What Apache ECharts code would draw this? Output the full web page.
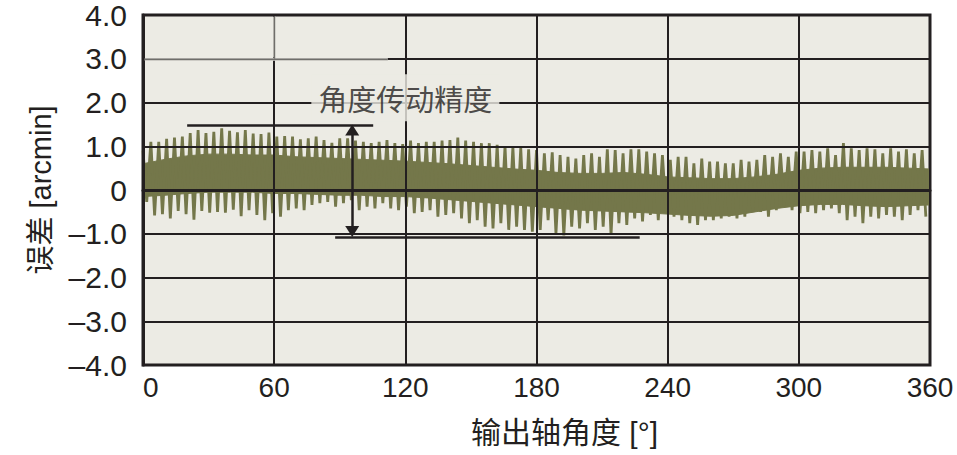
<!DOCTYPE html>
<html>
<head>
<meta charset="utf-8">
<script src="https://cdn.jsdelivr.net/npm/echarts@6/dist/echarts.min.js"></script>
<style>
html,body{margin:0;padding:0;background:#ffffff;}
#chart{width:957px;height:455px;}
</style>
</head>
<body>
<div id="chart"></div>
<script>
// ---- data ----
const xTickValues = [0, 60, 120, 180, 240, 300, 360];
const xTickLabels = ['0', '60', '120', '180', '240', '300', '360'];
const yTickValues = [-4, -3, -2, -1, 0, 1, 2, 3, 4];
const yTickLabels = ['\u20134.0', '\u20133.0', '\u20132.0', '\u20131.0', '0', '1.0', '2.0', '3.0', '4.0'];

const xName = '输出轴角度 [°]';
const yName = '误差 [arcmin]';
const titleText = '角度传动精度';

// one oscillation per 3.6° of output angle (100 per revolution)
const cycleDeg = 3.6;
const lowPhaseDeg = 1.7;

// top of each upward spike, one per cycle [arcmin]
const spikeHigh = [
  0.90, 1.10, 1.10, 1.17, 1.20, 1.22, 1.30, 1.37, 1.30, 1.33,
  1.41, 1.35, 1.32, 1.37, 1.29, 1.28, 1.31, 1.22, 1.23, 1.22,
  1.16, 1.18, 1.22, 1.14, 1.08, 1.18, 1.18, 1.13, 1.10, 1.07,
  1.10, 1.14, 1.07, 1.05, 1.13, 1.07, 1.10, 1.10, 1.13, 1.14,
  1.20, 1.13, 1.10, 1.07, 1.07, 1.03, 1.00, 0.98, 0.96, 0.93,
  0.91, 0.84, 0.86, 0.80, 0.76, 0.72, 0.80, 0.84, 0.76, 0.93,
  0.91, 0.84, 0.93, 0.93, 0.88, 0.84, 0.80, 0.69, 0.76, 0.76,
  0.61, 0.72, 0.65, 0.65, 0.61, 0.61, 0.69, 0.65, 0.69, 0.80,
  0.76, 0.84, 0.76, 0.88, 0.88, 0.91, 0.88, 0.95, 0.80, 1.07,
  0.95, 0.91, 0.95, 0.93, 0.84, 0.95, 0.88, 0.93, 0.84, 0.91
];

// bottom of each downward spike, one per cycle [arcmin]
const spikeLow = [
  -0.27, -0.58, -0.55, -0.65, -0.48, -0.55, -0.68, -0.48, -0.52, -0.50,
  -0.52, -0.45, -0.60, -0.46, -0.57, -0.69, -0.53, -0.61, -0.46, -0.42,
  -0.46, -0.34, -0.30, -0.27, -0.38, -0.30, -0.23, -0.46, -0.38, -0.42,
  -0.30, -0.42, -0.46, -0.38, -0.53, -0.50, -0.46, -0.61, -0.57, -0.53,
  -0.65, -0.76, -0.69, -0.84, -0.88, -0.76, -0.91, -0.84, -0.91, -0.95,
  -0.91, -0.69, -0.99, -1.04, -0.84, -0.88, -0.76, -0.91, -0.84, -1.02,
  -0.76, -0.80, -0.65, -0.72, -0.57, -0.69, -0.53, -0.61, -0.69, -0.76,
  -0.80, -0.69, -0.69, -0.65, -0.61, -0.65, -0.61, -0.46, -0.50, -0.61,
  -0.46, -0.38, -0.46, -0.53, -0.50, -0.53, -0.46, -0.42, -0.53, -0.69,
  -0.61, -0.76, -0.61, -0.65, -0.57, -0.61, -0.69, -0.57, -0.46, -0.61
];

// solid core of the trace, read every 10°
const bandAngles = [0,10,20,30,40,50,60,70,80,90,100,110,120,130,140,150,160,170,180,
  190,200,210,220,230,240,250,260,270,280,290,300,310,320,330,340,350,360];
const bandTop = [0.60,0.70,0.78,0.82,0.82,0.80,0.80,0.76,0.74,0.72,0.70,0.68,0.66,0.63,0.60,0.56,0.52,0.48,0.45,
  0.40,0.38,0.38,0.40,0.36,0.30,0.28,0.26,0.26,0.30,0.36,0.45,0.50,0.52,0.52,0.52,0.50,0.48];
const bandBottom = [-0.15,-0.12,-0.08,-0.05,-0.05,-0.05,-0.08,-0.08,-0.10,-0.12,-0.12,-0.15,-0.15,-0.18,-0.22,-0.26,-0.30,-0.34,-0.38,
  -0.42,-0.46,-0.48,-0.50,-0.52,-0.55,-0.58,-0.60,-0.58,-0.50,-0.42,-0.36,-0.33,-0.33,-0.36,-0.38,-0.36,-0.34];

// annotation: peak-to-peak bracket
const bracketTop = { from: 20.2, to: 105.3, value: 1.49 };
const bracketBottom = { from: 87.9, to: 227.2, value: -1.07 };
const arrowAngle = 95.7;
const titlePos = [120, 2.11];

// ---- build series data ----
const spikeData = [];
for (let i = 0; i < spikeHigh.length; i++) {
  spikeData.push([i * cycleDeg, spikeHigh[i]]);
  spikeData.push([i * cycleDeg + lowPhaseDeg, spikeLow[i]]);
}

const ink = '#231f20';
const olive = '#74774a';
const plotBg = '#ecebe4';
const faintGrid = '#6f6e6a';
const latin = "'Liberation Sans', Arial, sans-serif";
const mixed = "'Liberation Sans', 'Noto Sans CJK SC', sans-serif";

const chart = echarts.init(document.getElementById('chart'), null, { renderer: 'svg' });

chart.setOption({
  backgroundColor: '#ffffff',
  animation: false,
  grid: {
    left: 143, right: 27, top: 15, bottom: 90,
    show: true, backgroundColor: plotBg, borderColor: ink, borderWidth: 3
  },
  xAxis: {
    type: 'value', min: 0, max: 360, interval: 60, z: 3,
    axisLine: { show: true, lineStyle: { color: ink, width: 3 } },
    axisTick: { show: false },
    splitLine: { show: true, lineStyle: { color: ink, width: 2 } },
    axisLabel: {
      color: ink, fontFamily: latin, fontSize: 28, margin: 8,
      alignMinLabel: 'left',
      formatter: v => { const k = xTickValues.indexOf(Math.round(v)); return k >= 0 ? xTickLabels[k] : ''; }
    },
    name: xName, nameLocation: 'middle', nameGap: 52,
    nameTextStyle: { color: ink, fontFamily: mixed, fontSize: 30, padding: [0, 0, 0, 56] }
  },
  yAxis: {
    type: 'value', min: -4, max: 4, interval: 1, z: 3,
    axisLine: { show: true, lineStyle: { color: ink, width: 3 } },
    axisTick: { show: false },
    splitLine: { show: true, lineStyle: { color: ink, width: 2 } },
    axisLabel: {
      color: ink, fontFamily: latin, fontSize: 30, margin: 16,
      formatter: v => { const k = yTickValues.indexOf(Math.round(v)); return k >= 0 ? yTickLabels[k] : ''; }
    },
    name: yName, nameLocation: 'middle', nameGap: 88, nameRotate: 90,
    nameTextStyle: { color: ink, fontFamily: mixed, fontSize: 29 }
  },
  series: [
    {
      name: 'core', type: 'custom', coordinateSystem: 'cartesian2d', z: 2,
      silent: true, data: [[0, 0]],
      renderItem: function (params, api) {
        const pts = [];
        for (let k = 0; k < bandAngles.length; k++) pts.push(api.coord([bandAngles[k], bandTop[k]]));
        for (let k = bandAngles.length - 1; k >= 0; k--) pts.push(api.coord([bandAngles[k], bandBottom[k]]));
        return { type: 'polygon', shape: { points: pts }, style: { fill: olive, stroke: olive, lineWidth: 1 } };
      }
    },
    {
      name: 'error', type: 'line', z: 2, data: spikeData, symbol: 'none', silent: true,
      lineStyle: { color: olive, width: 2.8, join: 'miter' }, clip: true
    },
    {
      name: 'gridMask', type: 'line', z: 4, data: [], silent: true,
      markLine: {
        silent: true, symbol: 'none', animation: false, label: { show: false },
        lineStyle: { color: plotBg, width: 2.6, type: 'solid' },
        data: [
          [{ coord: [0.8, 3] }, { coord: [112, 3] }],
          [{ coord: [60, 3.03] }, { coord: [60, 3.96] }]
        ]
      }
    },
    {
      name: 'faint', type: 'line', z: 5, data: [], silent: true,
      markLine: {
        silent: true, symbol: 'none', animation: false, label: { show: false },
        lineStyle: { color: faintGrid, width: 1.4, type: 'solid' },
        data: [
          [{ coord: [0.8, 3] }, { coord: [112, 3] }],
          [{ coord: [60, 3] }, { coord: [60, 3.96] }]
        ]
      }
    },
    {
      name: 'annotation', type: 'scatter', z: 10, silent: true,
      data: [titlePos], symbolSize: 0,
      label: {
        show: true, position: 'inside', formatter: titleText,
        color: ink, fontFamily: "'Noto Sans CJK SC', sans-serif", fontSize: 29,
        backgroundColor: plotBg, padding: [9, 7, 9, 7]
      },
      markLine: {
        silent: true, symbol: 'none', animation: false,
        label: { show: false },
        lineStyle: { color: ink, width: 2.5, type: 'solid' },
        data: [
          [{ coord: [bracketTop.from, bracketTop.value] }, { coord: [bracketTop.to, bracketTop.value] }],
          [{ coord: [bracketBottom.from, bracketBottom.value] }, { coord: [bracketBottom.to, bracketBottom.value] }],
          [{ coord: [arrowAngle, bracketTop.value - 0.12], symbol: 'triangle', symbolSize: [14, 11] },
           { coord: [arrowAngle, bracketBottom.value + 0.12], symbol: 'triangle', symbolSize: [14, 11] }]
        ]
      }
    }
  ]
});
</script>
</body>
</html>
